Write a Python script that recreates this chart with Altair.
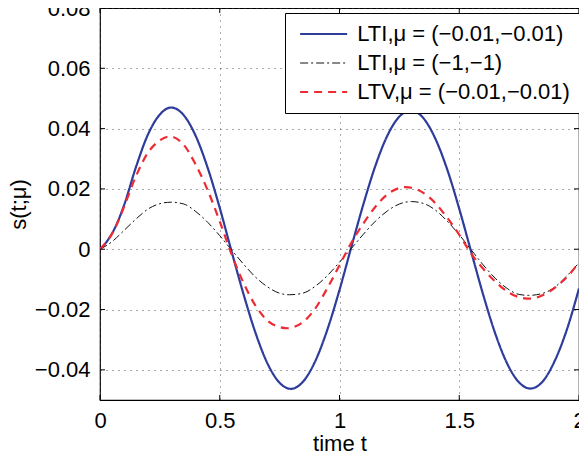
import altair as alt
import pandas as pd

# ---- data ----
series_names = ["LTI,μ = (−0.01,−0.01)", "LTI,μ = (−1,−1)", "LTV,μ = (−0.01,−0.01)"]

lti_fast_t = [0, 0.025, 0.05, 0.075, 0.1, 0.15, 0.2, 0.25, 0.297, 0.35, 0.4, 0.45, 0.5, 0.55,
              0.6, 0.65, 0.7, 0.75, 0.797, 0.85, 0.9, 0.95, 1.0, 1.05, 1.1, 1.15, 1.2, 1.25,
              1.297, 1.35, 1.4, 1.45, 1.5, 1.55, 1.6, 1.65, 1.7, 1.75, 1.797, 1.85, 1.9, 1.95, 2.0]
lti_fast_s = [0, 0.0022, 0.0052, 0.0093, 0.0145, 0.0272, 0.0380, 0.0447, 0.0470, 0.0444, 0.0375,
              0.0269, 0.0137, -0.0009, -0.0151, -0.0279, -0.0380, -0.0443, -0.0463, -0.0437,
              -0.0369, -0.0265, -0.0135, 0.0009, 0.0150, 0.0277, 0.0377, 0.0440, 0.0460, 0.0435,
              0.0367, 0.0264, 0.0134, -0.0009, -0.0151, -0.0279, -0.0379, -0.0442, -0.0462,
              -0.0437, -0.0368, -0.0265, -0.0130]

lti_slow_t = [0, 0.05, 0.1, 0.15, 0.2, 0.25, 0.297, 0.35, 0.4, 0.45, 0.5, 0.55, 0.6, 0.65, 0.7,
              0.75, 0.792, 0.85, 0.9, 0.95, 1.0, 1.05, 1.1, 1.15, 1.2, 1.25, 1.3, 1.35, 1.4, 1.45,
              1.5, 1.55, 1.6, 1.65, 1.7, 1.75, 1.79, 1.85, 1.9, 1.95, 2.0]
lti_slow_s = [0, 0.0025, 0.0062, 0.0100, 0.0133, 0.0151, 0.0156, 0.0150, 0.0125, 0.0089, 0.0045,
              -0.0003, -0.0050, -0.0093, -0.0125, -0.0146, -0.0151, -0.0145, -0.0122, -0.0087,
              -0.0043, 0.0003, 0.0050, 0.0093, 0.0127, 0.0150, 0.0158, 0.0152, 0.0130, 0.0093,
              0.0048, -0.0002, -0.0052, -0.0096, -0.0130, -0.0150, -0.0153, -0.0146, -0.0125,
              -0.0088, -0.0045]

ltv_t = [0, 0.025, 0.05, 0.075, 0.1, 0.15, 0.2, 0.25, 0.292, 0.35, 0.4, 0.45, 0.5, 0.55, 0.6,
         0.65, 0.7, 0.75, 0.78, 0.85, 0.9, 0.95, 1.0, 1.05, 1.1, 1.15, 1.2, 1.25, 1.277, 1.3,
         1.35, 1.4, 1.45, 1.5, 1.55, 1.6, 1.65, 1.7, 1.75, 1.797, 1.85, 1.9, 1.95, 2.0]
ltv_s = [0, 0.0022, 0.0051, 0.0091, 0.0140, 0.0242, 0.0320, 0.0361, 0.0374, 0.0346, 0.0280,
         0.0195, 0.0092, -0.0018, -0.0113, -0.0188, -0.0237, -0.0258, -0.0262, -0.0240, -0.0195,
         -0.0128, -0.0053, 0.0022, 0.0086, 0.0141, 0.0182, 0.0203, 0.0206, 0.0204, 0.0187,
         0.0153, 0.0104, 0.0048, -0.0015, -0.0065, -0.0107, -0.0140, -0.0159, -0.0164, -0.0152,
         -0.0127, -0.0092, -0.0044]

x_ticks = [0, 0.5, 1, 1.5, 2]
y_ticks = [-0.04, -0.02, 0, 0.02, 0.04, 0.06, 0.08]

# ---- build table ----
rows = []
for name, ts, vs in zip(series_names,
                        [lti_fast_t, lti_slow_t, ltv_t],
                        [lti_fast_s, lti_slow_s, ltv_s]):
    for i, (t, v) in enumerate(zip(ts, vs)):
        rows.append({"series": name, "t": t, "s": v, "i": i})
df = pd.DataFrame(rows)

W, H = 479, 392
FONT = "Liberation Sans"
FS = 22

x_axis = alt.Axis(values=x_ticks, format="~g", title="time t", grid=True, labelFlush=False,
                  labelOverlap=False, ticks=False, tickSize=0, domain=False,
                  labelPadding=10, titlePadding=2)
y_axis = alt.Axis(values=y_ticks, format="~g", title="s(t;μ)", grid=True, labelFlush=False,
                  labelOverlap=False, ticks=False, tickSize=0, domain=False,
                  labelPadding=10, titlePadding=4)
x_scale = alt.Scale(domain=[0, 2], nice=False, zero=False)
y_scale = alt.Scale(domain=[-0.05, 0.08], nice=False, zero=False)


def xenc():
    return alt.X("t:Q", scale=x_scale, axis=x_axis)


def yenc():
    return alt.Y("s:Q", scale=y_scale, axis=y_axis)


# legend line symbol: custom path 4 symbol-widths long, starting at the symbol's left edge
SYM = 11.75
leg = alt.Legend(title=None, orient="none", legendX=185, legendY=5, symbolType="M-1,0H7",
                 symbolSize=SYM * SYM, labelFont=FONT, labelFontSize=FS, labelColor="black",
                 labelLimit=500, fillColor="white", strokeColor="black", padding=10,
                 rowPadding=7, labelOffset=3 * SYM + 5, symbolFillColor="transparent")

lines = alt.Chart(df).mark_line(interpolate="monotone", clip=True).encode(
    x=xenc(),
    y=yenc(),
    order="i:Q",
    color=alt.Color("series:N", scale=alt.Scale(type="ordinal", domain=series_names,
                                                range=["#2e3c9c", "#111111", "#ee2b33"]),
                    legend=leg, sort=series_names),
    strokeDash=alt.StrokeDash("series:N", scale=alt.Scale(type="ordinal", domain=series_names,
                                                          range=[[1, 0], [8, 3, 2, 3], [8, 6]]),
                              legend=leg, sort=series_names),
    strokeWidth=alt.StrokeWidth("series:N", scale=alt.Scale(type="ordinal", domain=series_names,
                                                            range=[2.2, 1, 2.2]),
                                legend=leg, sort=series_names),
)

xt = pd.DataFrame({"t": x_ticks})
yt = pd.DataFrame({"s": y_ticks})
tick_x_bottom = alt.Chart(xt).mark_rule(color="black").encode(
    x=xenc(), y=alt.value(H), y2=alt.value(H - 5))
tick_x_top = alt.Chart(xt).mark_rule(color="black").encode(
    x=xenc(), y=alt.value(0), y2=alt.value(5))
tick_y_left = alt.Chart(yt).mark_rule(color="black").encode(
    y=yenc(), x=alt.value(0), x2=alt.value(5))
tick_y_right = alt.Chart(yt).mark_rule(color="black").encode(
    y=yenc(), x=alt.value(W - 5), x2=alt.value(W))

chart = alt.layer(lines, tick_x_bottom, tick_x_top, tick_y_left, tick_y_right).properties(
    width=W, height=H,
    autosize=alt.AutoSizeParams(type="none"),
    padding={"left": 92, "top": 0, "right": 0, "bottom": 58},
    background="white",
).configure_view(
    stroke="black", strokeWidth=1.2
).configure_axis(
    labelFont=FONT, labelFontSize=FS, labelColor="black",
    titleFont=FONT, titleFontSize=FS, titleColor="black", titleFontWeight="normal",
    gridColor="#444444", gridDash=[1, 5], gridWidth=1, gridOpacity=0.9,
)

chart.save("out.html", embed_options={"renderer": "svg", "actions": False})
